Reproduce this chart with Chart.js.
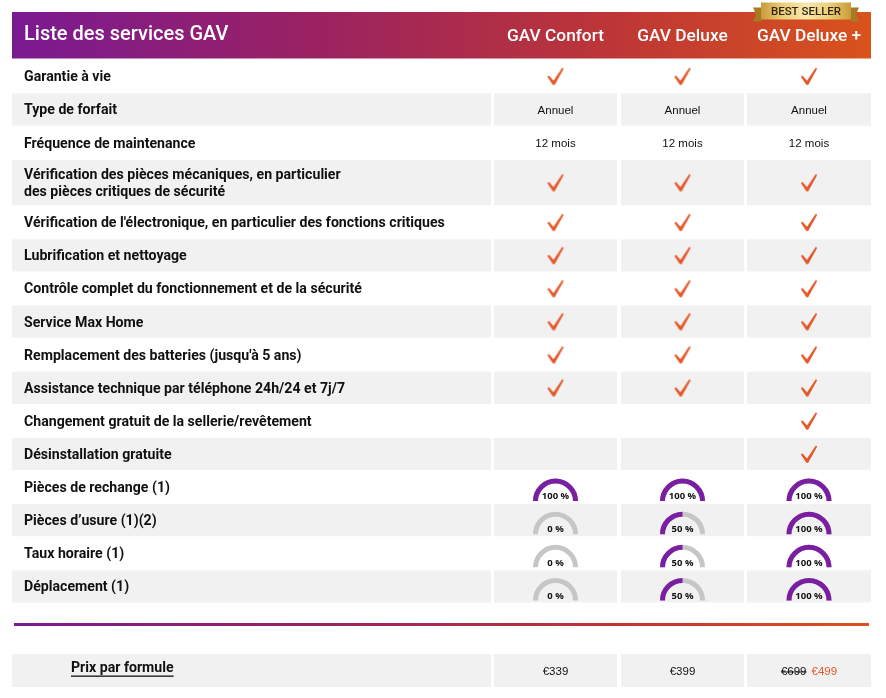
<!DOCTYPE html>
<html><head><meta charset="utf-8">
<script src="https://cdn.jsdelivr.net/npm/chart.js@4/dist/chart.umd.min.js"></script>
<style>html,body{margin:0;padding:0;background:#fff;}#wrap{width:886px;height:698px;}</style>
</head><body><div id="wrap"><canvas id="c" width="886" height="698"></canvas></div>
<script>
// ---------------- DATA ----------------
const title = "Liste des services GAV";
const plans = ["GAV Confort", "GAV Deluxe", "GAV Deluxe +"];
const badgeText = "BEST SELLER";
const CHECK = "✓";
const services = [
  "Garantie à vie",
  "Type de forfait",
  "Fréquence de maintenance",
  "Vérification des pièces mécaniques, en particulier\ndes pièces critiques de sécurité",
  "Vérification de l'électronique, en particulier des fonctions critiques",
  "Lubrification et nettoyage",
  "Contrôle complet du fonctionnement et de la sécurité",
  "Service Max Home",
  "Remplacement des batteries (jusqu'à 5 ans)",
  "Assistance technique par téléphone 24h/24 et 7j/7",
  "Changement gratuit de la sellerie/revêtement",
  "Désinstallation gratuite"
];
const confortServices   = [CHECK, "Annuel", "12 mois", CHECK, CHECK, CHECK, CHECK, CHECK, CHECK, CHECK, "", ""];
const deluxeServices    = [CHECK, "Annuel", "12 mois", CHECK, CHECK, CHECK, CHECK, CHECK, CHECK, CHECK, "", ""];
const deluxePlusServices= [CHECK, "Annuel", "12 mois", CHECK, CHECK, CHECK, CHECK, CHECK, CHECK, CHECK, CHECK, CHECK];
const coverageItems = ["Pièces de rechange (1)", "Pièces d’usure (1)(2)", "Taux horaire (1)", "Déplacement (1)"];
const confortCoverage    = [100, 0, 0, 0];
const deluxeCoverage     = [100, 50, 50, 50];
const deluxePlusCoverage = [100, 100, 100, 100];
const priceLabel = "Prix par formule";
const prices    = ["€339", "€399", "€499"];
const oldPrices = ["", "", "€699"];

// ---------------- LAYOUT / STYLE ----------------
const W = 886, H = 698;
const colEdges = [[12, 491], [494, 617], [621, 744], [747, 871]];
const rowStart = 59.5;
const rowHeights = [33.3, 33.3, 33.3, 46.3].concat(new Array(12).fill(33.1));
const header = {top: 12, bottom: 58.5};
const dividerY = 624.5;
const priceRow = {top: 654, bottom: 687};
const SHADE = '#f1f1f1';
const ORANGE = '#e4572a';
const PURPLE = '#7b1fa2';
const GREY = '#c6c6c6';
const LABEL_FAMILY = "Roboto, 'Liberation Sans', sans-serif";
const LABEL_TARGET_W = 421;

const allRows = services.concat(coverageItems);
const rowTops = [];
{ let y = rowStart; for (const h of rowHeights) { rowTops.push(y); y += h; } }
const rowCenter = i => rowTops[i] + rowHeights[i] / 2;
const colCenter = c => (colEdges[c][0] + colEdges[c][1]) / 2;

const planServices = [confortServices, deluxeServices, deluxePlusServices];
const planCoverage = [confortCoverage, deluxeCoverage, deluxePlusCoverage];

const checkPoints = [];
planServices.forEach((arr, c) => arr.forEach((v, r) => { if (v === CHECK) checkPoints.push({x: colCenter(c + 1), y: rowCenter(r)}); }));

function makeCheck() {
  const cv = document.createElement('canvas');
  cv.width = 20; cv.height = 20;
  const g = cv.getContext('2d');
  g.fillStyle = ORANGE;
  g.beginPath();
  g.moveTo(1.8, 10.6);
  g.lineTo(3.6, 9.4);
  g.lineTo(8.0, 14.6);
  g.lineTo(16.8, 1.4);
  g.lineTo(18.2, 2.4);
  g.lineTo(9.2, 18.8);
  g.lineTo(7.4, 18.8);
  g.closePath();
  g.fill();
  return cv;
}
const checkImg = makeCheck();

function gradient(ctx, x0, x1) {
  const gr = ctx.createLinearGradient(x0, 0, x1, 0);
  gr.addColorStop(0, '#7a1a92');
  gr.addColorStop(0.35, '#9a2262');
  gr.addColorStop(0.7, '#bd3636');
  gr.addColorStop(1, '#d9531c');
  return gr;
}

const tablePlugin = {
  id: 'table',
  beforeDatasetsDraw(chart) {
    const ctx = chart.ctx, xs = chart.scales.x, ys = chart.scales.y;
    const X = v => xs.getPixelForValue(v), Y = v => ys.getPixelForValue(v);
    ctx.save();
    ctx.fillStyle = gradient(ctx, X(colEdges[0][0]), X(colEdges[3][1]));
    ctx.fillRect(X(colEdges[0][0]), Y(header.top), X(colEdges[3][1]) - X(colEdges[0][0]), Y(header.bottom) - Y(header.top));
    ctx.fillStyle = SHADE;
    allRows.forEach((_, r) => {
      if (r % 2 === 1) {
        colEdges.forEach(([a, b]) => ctx.fillRect(X(a), Y(rowTops[r] + 0.5), X(b) - X(a), rowHeights[r] - 1));
      }
    });
    colEdges.forEach(([a, b]) => ctx.fillRect(X(a), Y(priceRow.top), X(b) - X(a), priceRow.bottom - priceRow.top));
    ctx.fillStyle = gradient(ctx, X(14), X(869));
    ctx.fillRect(X(14), Y(dividerY - 1.5), X(869) - X(14), 3);
    ctx.restore();
  },
  afterDatasetsDraw(chart) {
    const ctx = chart.ctx, xs = chart.scales.x, ys = chart.scales.y;
    const X = v => xs.getPixelForValue(v), Y = v => ys.getPixelForValue(v);
    ctx.save();
    // header texts
    ctx.fillStyle = '#fff';
    ctx.textBaseline = 'middle';
    ctx.textAlign = 'left';
    ctx.font = "500 20px Roboto, sans-serif";
    ctx.fillText(title, X(24), Y(34.5));
    ctx.textAlign = 'center';
    ctx.font = "500 17.3px Roboto, sans-serif";
    plans.forEach((p, i) => ctx.fillText(p, X(colCenter(i + 1)), Y(37)));
    // badge (ribbon)
    const bx0 = X(761), bx1 = X(851), by0 = Y(2.5), by1 = Y(19.5);
    ctx.fillStyle = '#a77a25';
    [[bx0, -1], [bx1, 1]].forEach(([ex, d]) => {
      ctx.beginPath();
      ctx.moveTo(ex, by0 + 5); ctx.lineTo(ex + d * 8, by0 + 5); ctx.lineTo(ex + d * 5, by0 + 12);
      ctx.lineTo(ex + d * 8, by1 + 2); ctx.lineTo(ex, by1 + 2); ctx.closePath(); ctx.fill();
    });
    const bg = ctx.createLinearGradient(bx0, 0, bx1, 0);
    bg.addColorStop(0, '#c99b3a'); bg.addColorStop(0.25, '#ecd07a'); bg.addColorStop(0.5, '#f8e8ad');
    bg.addColorStop(0.75, '#ecd07a'); bg.addColorStop(1, '#c99b3a');
    ctx.fillStyle = bg;
    ctx.fillRect(bx0, by0, bx1 - bx0, by1 - by0);
    ctx.fillStyle = '#33270f';
    ctx.font = "500 11.5px Roboto, sans-serif";
    ctx.textAlign = 'center';
    ctx.fillText(badgeText, (bx0 + bx1) / 2, (by0 + by1) / 2 + 1);

    // row labels
    ctx.fillStyle = '#111';
    ctx.textAlign = 'left';
    ctx.font = "bold 13px " + LABEL_FAMILY;
    const fs = 13 * LABEL_TARGET_W / ctx.measureText(services[4]).width;
    const labelFont = "bold " + fs.toFixed(2) + "px " + LABEL_FAMILY;
    ctx.font = labelFont;
    allRows.forEach((lab, r) => {
      const lines = lab.split('\n');
      const cy = rowCenter(r) + 1.5;
      lines.forEach((ln, li) => ctx.fillText(ln, X(24), Y(cy + (li - (lines.length - 1) / 2) * 16.5)));
    });
    // text values
    ctx.textAlign = 'center';
    ctx.font = "11.5px 'Liberation Sans', Arial, sans-serif";
    planServices.forEach((arr, c) => arr.forEach((v, r) => {
      if (v && v !== CHECK) ctx.fillText(v, X(colCenter(c + 1)), Y(rowCenter(r) + 1));
    }));
    // gauges
    planCoverage.forEach((arr, c) => arr.forEach((v, i) => {
      const r = services.length + i;
      const cx = X(colCenter(c + 1));
      const base = Y(rowTops[r] + rowHeights[r] - 2.5);
      const rad = 20, lw = 5;
      ctx.lineWidth = lw; ctx.lineCap = 'butt';
      ctx.strokeStyle = GREY;
      ctx.beginPath(); ctx.arc(cx, base, rad, Math.PI, 2 * Math.PI); ctx.stroke();
      if (v > 0) {
        ctx.strokeStyle = PURPLE;
        ctx.beginPath(); ctx.arc(cx, base, rad, Math.PI, Math.PI + Math.PI * v / 100); ctx.stroke();
      }
      ctx.fillStyle = '#111';
      ctx.font = "bold 9.5px 'Open Sans', Arial, sans-serif";
      ctx.fillText(v + ' %', cx, base - 4.5);
    }));
    // price row
    ctx.textAlign = 'left';
    ctx.font = labelFont;
    const py = Y(668);
    ctx.fillText(priceLabel, X(71), py);
    const pw = ctx.measureText(priceLabel).width;
    ctx.fillRect(X(71), py + 7.5, pw, 1.3);
    ctx.font = "11.5px 'Liberation Sans', Arial, sans-serif";
    prices.forEach((p, c) => {
      const cx = X(colCenter(c + 1)), y = Y(672);
      if (oldPrices[c]) {
        const w1 = ctx.measureText(oldPrices[c]).width, w2 = ctx.measureText(p).width, gap = 5;
        const start = cx - (w1 + w2 + gap) / 2;
        ctx.textAlign = 'left';
        ctx.fillStyle = '#111';
        ctx.fillText(oldPrices[c], start, y);
        ctx.fillRect(start, y - 0.5, w1, 1);
        ctx.fillStyle = ORANGE;
        ctx.fillText(p, start + w1 + gap, y);
      } else {
        ctx.textAlign = 'center';
        ctx.fillStyle = '#111';
        ctx.fillText(p, cx, y);
      }
    });
    ctx.restore();
  }
};

new Chart(document.getElementById('c'), {
  type: 'scatter',
  data: {
    datasets: [{
      label: 'Inclus',
      data: checkPoints,
      pointStyle: checkImg,
      pointRadius: 9,
      pointHoverRadius: 9
    }]
  },
  options: {
    responsive: false,
    animation: false,
    events: [],
    layout: {padding: 0, autoPadding: false},
    plugins: {legend: {display: false}, tooltip: {enabled: false}},
    scales: {
      x: {type: 'linear', min: 0, max: W, display: false},
      y: {type: 'linear', min: 0, max: H, reverse: true, display: false}
    }
  },
  plugins: [tablePlugin]
});
</script>
</body></html>
